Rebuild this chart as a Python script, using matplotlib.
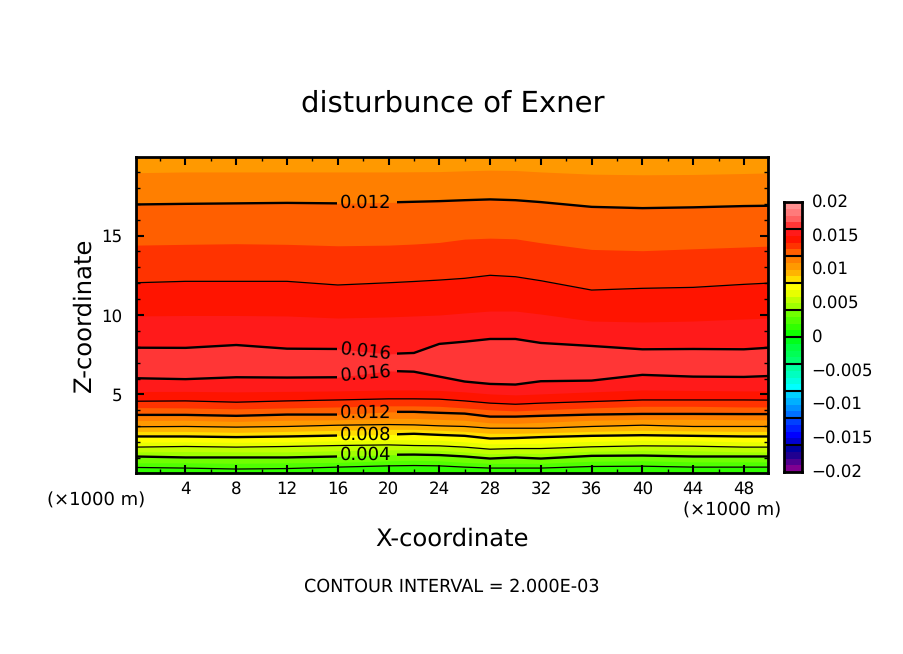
import numpy as np
import matplotlib
matplotlib.use('Agg')
import matplotlib.pyplot as plt
from matplotlib.colors import ListedColormap, BoundaryNorm
from matplotlib.patches import Rectangle

x_km = [0, 4, 8, 12, 16, 20, 22, 24, 26, 28, 30, 32, 36, 40, 44, 48, 50]

# height (km) of each iso-surface, going up from the ground
z_002 = [0.40, 0.36, 0.30, 0.33, 0.42, 0.50, 0.52, 0.50, 0.42, 0.36, 0.36, 0.36, 0.46, 0.48, 0.42, 0.42, 0.42]
z_003 = [0.69, 0.69, 0.66, 0.69, 0.72, 0.82, 0.85, 0.82, 0.72, 0.66, 0.66, 0.66, 0.79, 0.82, 0.75, 0.75, 0.75]
z_004 = [1.09, 1.03, 1.03, 1.03, 1.09, 1.20, 1.21, 1.18, 1.09, 0.96, 1.03, 0.96, 1.13, 1.15, 1.09, 1.09, 1.09]
z_005 = [1.38, 1.40, 1.38, 1.38, 1.45, 1.51, 1.51, 1.48, 1.38, 1.26, 1.29, 1.29, 1.42, 1.48, 1.45, 1.38, 1.38]
z_006 = [1.68, 1.72, 1.68, 1.72, 1.78, 1.82, 1.78, 1.76, 1.68, 1.55, 1.59, 1.59, 1.70, 1.76, 1.74, 1.68, 1.68]
z_007 = [1.99, 2.01, 1.98, 2.01, 2.08, 2.14, 2.14, 2.11, 2.01, 1.89, 1.89, 1.92, 2.04, 2.11, 2.08, 2.01, 2.01]
z_008 = [2.35, 2.35, 2.31, 2.35, 2.41, 2.47, 2.52, 2.45, 2.39, 2.22, 2.25, 2.31, 2.39, 2.43, 2.39, 2.35, 2.35]
z_009 = [2.67, 2.67, 2.61, 2.67, 2.74, 2.80, 2.80, 2.74, 2.67, 2.55, 2.55, 2.58, 2.67, 2.74, 2.70, 2.67, 2.67]
z_010 = [2.96, 2.98, 2.94, 2.98, 3.06, 3.10, 3.08, 3.02, 2.98, 2.87, 2.87, 2.87, 2.98, 3.06, 2.98, 2.98, 2.98]
z_011 = [3.35, 3.37, 3.30, 3.37, 3.40, 3.49, 3.49, 3.43, 3.37, 3.21, 3.18, 3.24, 3.37, 3.43, 3.43, 3.40, 3.40]
z_012 = [3.71, 3.71, 3.65, 3.73, 3.73, 3.90, 3.90, 3.84, 3.79, 3.60, 3.60, 3.65, 3.73, 3.77, 3.77, 3.76, 3.76]
z_013 = [4.17, 4.15, 4.09, 4.15, 4.21, 4.28, 4.28, 4.25, 4.15, 4.03, 3.96, 4.03, 4.15, 4.25, 4.25, 4.21, 4.21]
z_014 = [4.57, 4.59, 4.51, 4.59, 4.65, 4.72, 4.72, 4.70, 4.59, 4.45, 4.38, 4.45, 4.55, 4.65, 4.65, 4.65, 4.64]
z_015 = [5.18, 5.19, 5.16, 5.19, 5.22, 5.28, 5.28, 5.25, 5.16, 5.03, 4.97, 5.03, 5.16, 5.28, 5.25, 5.22, 5.22]
z_016 = [6.02, 5.96, 6.08, 6.06, 6.08, 6.48, 6.43, 6.12, 5.81, 5.66, 5.62, 5.83, 5.87, 6.23, 6.12, 6.10, 6.16]
# above the maximum the field falls off again
z_016b = [7.94, 7.93, 8.11, 7.88, 7.86, 7.55, 7.61, 8.18, 8.32, 8.49, 8.49, 8.24, 8.05, 7.84, 7.86, 7.84, 7.94]
z_015b = [9.94, 9.97, 9.97, 9.94, 9.81, 9.88, 9.94, 10.00, 10.13, 10.25, 10.25, 10.06, 9.62, 9.56, 9.62, 9.75, 9.81]
z_014b = [12.03, 12.12, 12.12, 12.12, 11.89, 12.03, 12.11, 12.20, 12.31, 12.50, 12.41, 12.16, 11.57, 11.68, 11.74, 11.93, 12.01]
z_013b = [14.40, 14.45, 14.49, 14.45, 14.36, 14.40, 14.47, 14.57, 14.78, 14.84, 14.80, 14.55, 14.13, 14.05, 14.17, 14.28, 14.34]
z_012b = [16.96, 17.00, 17.03, 17.06, 17.03, 17.09, 17.13, 17.17, 17.23, 17.28, 17.23, 17.11, 16.81, 16.73, 16.78, 16.86, 16.88]
z_011b = [18.96, 19.01, 19.01, 19.01, 19.01, 19.01, 19.02, 19.03, 19.08, 19.12, 19.10, 19.01, 18.87, 18.83, 18.85, 18.91, 18.95]

surface_levels = [0.002, 0.003, 0.004, 0.005, 0.006, 0.007, 0.008, 0.009, 0.010, 0.011, 0.012,
                  0.013, 0.014, 0.015, 0.016, 0.016, 0.015, 0.014, 0.013, 0.012, 0.011]
surface_heights = [z_002, z_003, z_004, z_005, z_006, z_007, z_008, z_009, z_010, z_011, z_012,
                   z_013, z_014, z_015, z_016, z_016b, z_015b, z_014b, z_013b, z_012b, z_011b]

# tone table of the colour bar, lowest band first
tone_colors = ['#800090', '#500090', '#200090', '#0000A0',
               '#0000D0', '#0000FF', '#0020FF', '#0040FF',
               '#0070FF', '#0090FF', '#00B0FF', '#00D0FF',
               '#00FFFF', '#00FFE0', '#00FFC0', '#00FFA0',
               '#00FF6F', '#00FF55', '#00FF40', '#00FF1A',
               '#10FF00', '#30FF00', '#50FF00', '#70FF00',
               '#A0FF00', '#C0FF00', '#E8FF00', '#FFFF00',
               '#FFDD00', '#FFB400', '#FF9900', '#FF7F00',
               '#FF5F00', '#FF3300', '#FF1400', '#FF1A1A',
               '#FF3636', '#FF6060', '#FF7A7A', '#FF9090']
tone_edges = np.linspace(-0.02, 0.02, 41)
bar_ticks = [-0.02, -0.015, -0.01, -0.005, 0, 0.005, 0.01, 0.015, 0.02]
bar_labels = ['\u22120.02', '\u22120.015', '\u22120.01', '\u22120.005', '0', '0.005', '0.01', '0.015', '0.02']
bar_lines = [-0.016, -0.012, -0.008, -0.004, 0, 0.004, 0.008, 0.012, 0.016]

# contour labels: text, x, z, rotation
label_text = ['0.012', '0.016', '0.016', '0.012', '0.008', '0.004']
label_x = [18.2, 18.2, 18.2, 18.2, 18.2, 18.2]
label_z = [17.05, 7.73, 6.29, 3.85, 2.47, 1.20]
label_rot = [0, -6, 5, 0, 0, 0]
labelled_lines = [z_012b, z_016b, z_016, z_012, z_008, z_004]
gap_x = (15.9, 20.7)

xlim = (0.1, 49.9)
ylim = (0.05, 19.95)

W, H = 904, 654
plt.rcParams['font.family'] = 'DejaVu Sans'
plt.rcParams['text.hinting'] = 'none'


def px_axes(left, top, right, bottom):
    return [left / W, 1 - bottom / H, (right - left) / W, (bottom - top) / H]


fig = plt.figure(figsize=(W / 100, H / 100), dpi=100, facecolor='white')
ax = fig.add_axes(px_axes(136, 157, 768, 473))

cmap = ListedColormap(tone_colors)
norm = BoundaryNorm(tone_edges, cmap.N)

x = np.array(x_km)
# paint from the ground up, each band covers everything above it
ax.fill_between(x, ylim[0], ylim[1], color=cmap(norm(0.0015)), lw=0, zorder=1)
for i, (lev, z) in enumerate(zip(surface_levels, surface_heights)):
    if i + 1 < len(surface_levels):
        band = min(lev, surface_levels[i + 1]) + 0.0005
    else:
        band = lev - 0.0005
    ax.fill_between(x, z, ylim[1] + 1, color=cmap(norm(band)), lw=0, zorder=1 + i * 0.01)

# contour lines every 0.002, thick ones every 0.004
for lev, z in zip(surface_levels, surface_heights):
    if round(lev * 1000) % 2:
        continue
    lw = 1.7 if round(lev * 1000) % 4 == 0 else 0.9
    if any(z is l for l in labelled_lines):
        for x0, x1 in ((xlim[0], gap_x[0]), (gap_x[1], xlim[1])):
            ln, = ax.plot(x, z, color='black', lw=lw, zorder=3)
            ln.set_clip_path(Rectangle((x0, ylim[0]), x1 - x0, ylim[1] - ylim[0], transform=ax.transData))
    else:
        ax.plot(x, z, color='black', lw=lw, zorder=3)

for t, lx, lz, r in zip(label_text, label_x, label_z, label_rot):
    ax.text(lx, lz, t, fontsize=13, ha='center', va='center', rotation=r,
            rotation_mode='anchor', color='black', zorder=4)

ax.set_xlim(xlim)
ax.set_ylim(ylim)
ax.set_xticks(np.arange(4, 49, 4))
ax.set_xticks(np.arange(2, 50, 2), minor=True)
ax.set_yticks([5, 10, 15])
ax.set_yticks(np.arange(1, 20), minor=True)
ax.tick_params(which='major', direction='in', length=6, width=1.5, top=True, right=True,
               labelsize=12, zorder=5)
ax.tick_params(which='minor', direction='in', length=3, width=1, top=True, right=True, zorder=5)
ax.tick_params(axis='x', which='major', pad=6)
ax.tick_params(axis='y', which='major', pad=10)
for s in ax.spines.values():
    s.set_linewidth(2)
    s.set_zorder(6)

# colour bar
cax = fig.add_axes(px_axes(784, 202, 802, 472))
cax.pcolormesh([0, 1], tone_edges, np.array([(tone_edges[:-1] + tone_edges[1:]) / 2]).T,
               cmap=cmap, norm=norm)
cax.hlines(bar_lines, 0, 1, color='black', lw=1.5)
cax.set_xticks([])
cax.set_ylim(-0.02, 0.02)
cax.yaxis.tick_right()
cax.set_yticks(bar_ticks)
cax.set_yticklabels(bar_labels, va='center')
cax.tick_params(axis='y', length=0, pad=7, labelsize=12)
for s in cax.spines.values():
    s.set_linewidth(2)


def fig_text(px, py, s, **kw):
    fig.text(px / W, 1 - py / H, s, va='center', **kw)


fig_text(453, 104, 'disturbunce of Exner', fontsize=21, ha='center')
fig_text(452, 539, 'X-coordinate', fontsize=17.5, ha='center')
fig_text(84, 315, 'Z-coordinate', fontsize=17.5, ha='center', rotation=90)
fig_text(452, 587, 'CONTOUR INTERVAL = 2.000E-03', fontsize=12.7, ha='center')
fig_text(47, 501, '(\u00d71000 m)', fontsize=13, ha='left')
fig_text(781, 511, '(\u00d71000 m)', fontsize=13, ha='right')

fig.savefig('out.png', dpi=100)
